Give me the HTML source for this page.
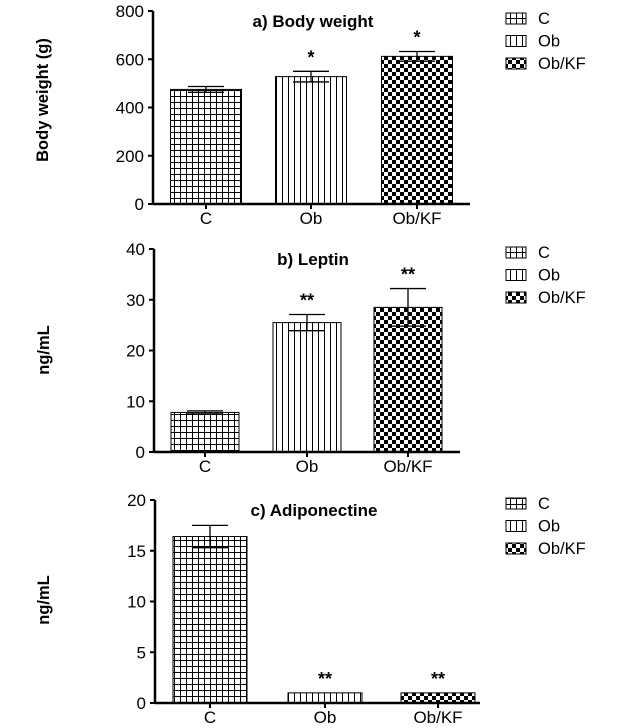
<!DOCTYPE html>
<html><head><meta charset="utf-8"><style>
html,body{margin:0;padding:0;background:#fff;}
svg{display:block;font-family:"Liberation Sans",Arial,sans-serif;}
</style></head><body>
<svg id="chart" width="633" height="728" viewBox="0 0 633 728">
<defs>
<pattern id="pGrid" width="6" height="6" patternUnits="userSpaceOnUse"><rect width="6" height="6" fill="#fff"/><path d="M0 0.5H6M0.5 0V6" stroke="#000" stroke-width="1"/></pattern>
<pattern id="pVert" width="6" height="6" patternUnits="userSpaceOnUse"><rect width="6" height="6" fill="#fff"/><path d="M0.5 0V6" stroke="#000" stroke-width="1"/></pattern>
<pattern id="pCheck" width="8" height="8" patternUnits="userSpaceOnUse"><rect width="8" height="8" fill="#fff"/><rect width="4" height="4" fill="#000"/><rect x="4" y="4" width="4" height="4" fill="#000"/></pattern>
</defs>
</svg>
<script>
const categories = ["C", "Ob", "Ob/KF"];
const bodyWeightValues = [475, 528, 612];
const bodyWeightErrors = [12, 22, 20];
const bodyWeightStars = ["", "*", "*"];
const bodyWeightTicks = [0, 200, 400, 600, 800];
const leptinValues = [7.8, 25.5, 28.5];
const leptinErrors = [0.3, 1.6, 3.7];
const leptinStars = ["", "**", "**"];
const leptinTicks = [0, 10, 20, 30, 40];
const adipoValues = [16.4, 1.0, 1.0];
const adipoErrors = [1.1, 0, 0];
const adipoStars = ["", "**", "**"];
const adipoTicks = [0, 5, 10, 15, 20];

const NS = "http://www.w3.org/2000/svg";
const svg = document.getElementById("chart");
const fills = ["url(#pGrid)", "url(#pVert)", "url(#pCheck)"];
function mk(tag, attrs, parent) {
  const e = document.createElementNS(NS, tag);
  for (const k in attrs) e.setAttribute(k, attrs[k]);
  (parent || svg).appendChild(e);
  return e;
}
function txt(s, attrs, parent) { const t = mk("text", attrs, parent); t.textContent = s; return t; }

function panel(cfg, values, errors, stars, ticks) {
  const g = mk("g", {});
  
  
  const max = ticks[ticks.length - 1];
  const y = v => cfg.y0 - (v / max) * (cfg.y0 - cfg.yTop);
  const ax = mk("line", {x1: cfg.ax, y1: cfg.yTop, x2: cfg.ax, y2: cfg.y0, stroke: "#000", "stroke-width": 2.5}, g);
  
  
  ticks.forEach(t => {
    mk("line", {x1: cfg.ax - 5, y1: y(t), x2: cfg.ax, y2: y(t), stroke: "#000", "stroke-width": 2}, g);
    const tl = txt(String(t), {x: cfg.ax - 9, y: y(t) + 6, "text-anchor": "end", "font-size": 17}, g);
    
    
  });
  const yt = txt(cfg.ytitle, {x: 0, y: 0, "text-anchor": "middle", "font-size": 16.5, "font-weight": "bold", transform: `translate(${cfg.ytx},${cfg.ytc}) rotate(-90)`}, g);
  
  
  const bw = cfg.bw;
  categories.forEach((c, i) => {
    const cx = cfg.cx[i];
    const b = mk("rect", {x: cx - bw / 2, y: y(values[i]), width: bw, height: cfg.y0 - y(values[i]), fill: fills[i], stroke: "#000", "stroke-width": 1}, g);
    
    
    if (errors[i] > 0) {
      const e = mk("path", {d: `M${cx} ${y(values[i] - errors[i])}V${y(values[i] + errors[i])}M${cx - 18} ${y(values[i] + errors[i])}H${cx + 18}M${cx - 18} ${y(values[i] - errors[i])}H${cx + 18}`, stroke: "#000", "stroke-width": 1.3, fill: "none"}, g);
      
      
    }
    if (stars[i]) {
      const s = txt(stars[i], {x: cx, y: y(values[i] + errors[i]) - 8, "text-anchor": "middle", "font-size": 18, "font-weight": "bold"}, g);
      
      
    }
    mk("line", {x1: cx, y1: cfg.y0, x2: cx, y2: cfg.y0 + 5, stroke: "#000", "stroke-width": 2}, g);
    const xl = txt(c, {x: cx, y: cfg.y0 + 20, "text-anchor": "middle", "font-size": 17}, g);
    
    
  });
  const xa = mk("line", {x1: cfg.ax, y1: cfg.y0, x2: cfg.axEnd, y2: cfg.y0, stroke: "#000", "stroke-width": 2.5}, g);
  
  
  const tt = txt(cfg.title, {x: cfg.tx, y: cfg.yTop + 16, "text-anchor": "middle", "font-size": 17, "font-weight": "bold"}, g);
  
  
  categories.forEach((c, i) => {
    const ly = cfg.ly + i * 22.5;
    const lg = mk("g", {}, g);
    
    
    mk("rect", {x: 506, y: ly - 5, width: 20, height: 11, fill: fills[i], stroke: "#000", "stroke-width": 1}, lg);
    txt(c, {x: 538, y: ly + 6, "font-size": 16.5}, lg);
  });
}
panel({name: "panel-body-weight", ax: 153, axEnd: 470, yTop: 11, y0: 204, cx: [206, 311, 417], bw: 71, ytitle: "Body weight (g)", ytx: 48, ytc: 100, title: "a) Body weight", tx: 313, ly: 18}, bodyWeightValues, bodyWeightErrors, bodyWeightStars, bodyWeightTicks);
panel({name: "panel-leptin", ax: 154, axEnd: 460, yTop: 249, y0: 452, cx: [205, 307, 408], bw: 68, ytitle: "ng/mL", ytx: 49, ytc: 350, title: "b) Leptin", tx: 313, ly: 252}, leptinValues, leptinErrors, leptinStars, leptinTicks);
panel({name: "panel-adiponectine", ax: 155, axEnd: 480, yTop: 500, y0: 703, cx: [210, 325, 438], bw: 74, ytitle: "ng/mL", ytx: 49, ytc: 600, title: "c) Adiponectine", tx: 314, ly: 503}, adipoValues, adipoErrors, adipoStars, adipoTicks);
</script>
</body></html>
